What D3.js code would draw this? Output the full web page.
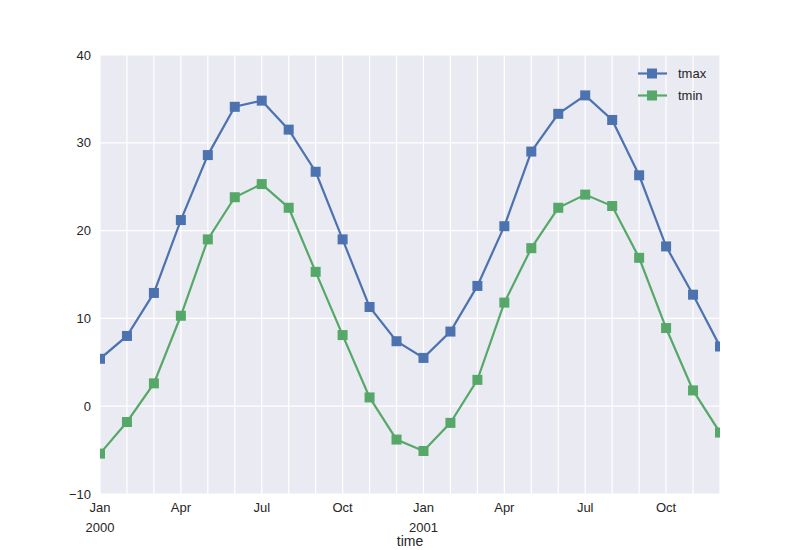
<!DOCTYPE html>
<html>
<head>
<meta charset="utf-8">
<script src="https://cdn.jsdelivr.net/npm/d3@7"></script>
<style>
  body { margin: 0; background: #fff; }
  text { font-family: "Liberation Sans", Arial, sans-serif; }
</style>
</head>
<body>
<script>
const months = ["2000-01","2000-02","2000-03","2000-04","2000-05","2000-06","2000-07","2000-08","2000-09","2000-10","2000-11","2000-12",
                "2001-01","2001-02","2001-03","2001-04","2001-05","2001-06","2001-07","2001-08","2001-09","2001-10","2001-11","2001-12"];
const tmax = [5.4, 8.0, 12.9, 21.2, 28.6, 34.1, 34.8, 31.5, 26.7, 19.0, 11.3, 7.4,
              5.5, 8.5, 13.7, 20.5, 29.0, 33.3, 35.4, 32.6, 26.3, 18.2, 12.7, 6.8];
const tmin = [-5.4, -1.8, 2.6, 10.3, 19.0, 23.8, 25.3, 22.6, 15.3, 8.1, 1.0, -3.8,
              -5.1, -1.9, 3.0, 11.8, 18.0, 22.6, 24.1, 22.8, 16.9, 8.9, 1.8, -3.0];
const yTicks = [-10, 0, 10, 20, 30, 40];
const monthNames = ["Jan","Feb","Mar","Apr","May","Jun","Jul","Aug","Sep","Oct","Nov","Dec"];

const series = [
  { name: "tmax", values: tmax, color: "#4C72B0" },
  { name: "tmin", values: tmin, color: "#55A868" }
];

const width = 800, height = 550;
const margin = { top: 55, right: 80, bottom: 56, left: 100 };

const svg = d3.select("body").append("svg")
  .attr("width", width)
  .attr("height", height);

// month index -> px (pandas period plot: evenly spaced months)
const x = d3.scaleLinear().domain([0, months.length - 1]).range([margin.left, width - margin.right]);
const y = d3.scaleLinear().domain([-10, 40]).range([height - margin.bottom, margin.top]);

svg.append("rect")
  .attr("x", margin.left).attr("y", margin.top)
  .attr("width", width - margin.left - margin.right)
  .attr("height", height - margin.top - margin.bottom)
  .attr("fill", "#EAEAF2");

// grid
svg.append("g").selectAll("line")
  .data(d3.range(months.length))
  .join("line")
  .attr("x1", d => x(d)).attr("x2", d => x(d))
  .attr("y1", margin.top).attr("y2", height - margin.bottom)
  .attr("stroke", "#fff").attr("stroke-width", 1.2);

svg.append("g").selectAll("line")
  .data(yTicks)
  .join("line")
  .attr("x1", margin.left).attr("x2", width - margin.right)
  .attr("y1", d => y(d)).attr("y2", d => y(d))
  .attr("stroke", "#fff").attr("stroke-width", 1.2);

// y tick labels
svg.append("g").selectAll("text")
  .data(yTicks)
  .join("text")
  .attr("x", margin.left - 9)
  .attr("y", d => y(d))
  .attr("dy", "0.35em")
  .attr("text-anchor", "end")
  .attr("font-size", 13)
  .attr("fill", "#262626")
  .text(d => d < 0 ? "\u2212" + Math.abs(d) : d);

// x tick labels (Jan/Apr/Jul/Oct)
const major = d3.range(months.length).filter(i => i % 3 === 0);
const xt = svg.append("g").selectAll("text")
  .data(major)
  .join("text")
  .attr("x", d => x(d))
  .attr("y", height - margin.bottom + 18)
  .attr("text-anchor", "middle")
  .attr("font-size", 13)
  .attr("fill", "#262626");
xt.append("tspan")
  .attr("x", d => x(d))
  .text(d => monthNames[+months[d].slice(5) - 1]);
xt.filter(d => months[d].slice(5) === "01").append("tspan")
  .attr("x", d => x(d))
  .attr("dy", 20)
  .text(d => months[d].slice(0, 4));

svg.append("text")
  .attr("x", (margin.left + width - margin.right) / 2)
  .attr("y", height - 4)
  .attr("text-anchor", "middle")
  .attr("font-size", 14)
  .attr("fill", "#262626")
  .text("time");

// lines + markers
const line = d3.line().x((d, i) => x(i)).y(d => y(d));
svg.append("defs").append("clipPath").attr("id", "clip")
  .append("rect")
  .attr("x", margin.left).attr("y", margin.top)
  .attr("width", width - margin.left - margin.right)
  .attr("height", height - margin.top - margin.bottom);

const plot = svg.append("g").attr("clip-path", "url(#clip)");
series.forEach(s => {
  plot.append("path")
    .datum(s.values)
    .attr("d", line)
    .attr("fill", "none")
    .attr("stroke", s.color)
    .attr("stroke-width", 2.2);
  plot.append("g").selectAll("rect")
    .data(s.values)
    .join("rect")
    .attr("x", (d, i) => x(i) - 5)
    .attr("y", d => y(d) - 5)
    .attr("width", 10).attr("height", 10)
    .attr("fill", s.color);
});

// legend
const legend = svg.append("g").selectAll("g")
  .data(series)
  .join("g")
  .attr("transform", (d, i) => `translate(638,${73.5 + i * 22})`);
legend.append("line")
  .attr("x1", 0).attr("x2", 29)
  .attr("stroke", d => d.color).attr("stroke-width", 2.2);
legend.append("rect")
  .attr("x", 9).attr("y", -5).attr("width", 10).attr("height", 10)
  .attr("fill", d => d.color);
legend.append("text")
  .attr("x", 40).attr("dy", "0.35em")
  .attr("font-size", 13)
  .attr("fill", "#262626")
  .text(d => d.name);
</script>
</body>
</html>
